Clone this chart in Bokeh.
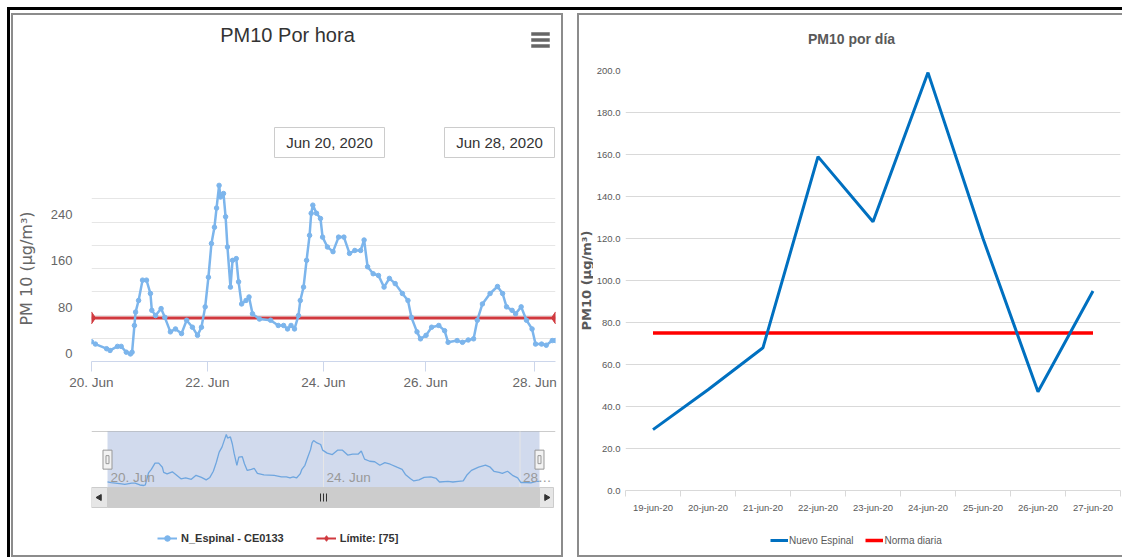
import math
from bokeh.plotting import figure
from bokeh.models import (Range1d, LinearAxis, FixedTicker, Grid, Legend, LegendItem,
                          Spacer, NumeralTickFormatter)
from bokeh.layouts import row, column
from bokeh.embed import file_html
from bokeh.resources import INLINE
from bokeh.core.properties import value

# ---------------- data ----------------
# hourly PM10 (position on the ordinal time axis, value in ug/m3)
hora_pos = [0, 1.7, 6.5, 8, 11.2, 12.8, 15, 16.8, 17.5, 18.5,
            19, 20.3, 22, 23.7, 25.4, 26, 27.6, 30, 31.6, 34,
            36.2, 38.8, 41, 43.5, 45.7, 47.4, 49, 50.4, 51.7, 53,
            53.9, 55, 55.6, 56.9, 57.8, 58.6, 59.9, 60.8, 62.4, 63.4,
            64.7, 66.6, 67.9, 69.4, 72.4, 77.2, 80.5, 82.8, 84.5, 86,
            87.5, 89.2, 90, 91.4, 92.7, 94, 94.7, 95.4, 97, 98.7,
            99.6, 101.7, 104.1, 106.5, 108.8, 111.2, 113.5, 116, 117.5, 119,
            121.4, 123.7, 126.1, 128.4, 130.9, 134, 136.4, 137.9, 140.3, 141.8,
            144.2, 146.6, 149.7, 152.2, 153.7, 157.6, 159.9, 162.4, 164.7, 166.3,
            168.5, 171.8, 175, 177.2, 178.9, 181.3, 182.8, 185.2, 187.5, 189.9,
            191.4, 194, 196, 198.6, 200]
pm10_hora = [34, 30, 22, 19, 26, 26, 16, 13, 16, 62,
             85, 105, 140, 140, 117, 88, 79, 91, 76, 51,
             56, 48, 71, 59, 45, 59, 94, 145, 203, 231,
             264, 303, 283, 289, 249, 197, 128, 174, 177, 137,
             99, 105, 111, 82, 73, 71, 62, 62, 56, 62,
             56, 79, 105, 128, 174, 217, 255, 269, 255, 246,
             214, 197, 189, 214, 214, 186, 191, 191, 209, 163,
             151, 148, 128, 143, 134, 117, 105, 76, 51, 39,
             45, 59, 62, 53, 33, 36, 33, 37, 39, 71,
             99, 117, 129, 117, 94, 88, 82, 94, 71, 56,
             30, 30, 28, 36, 36]
limite = 75
ticks_hora = [0, 50, 100, 144, 191]
etiquetas_hora = ["20. Jun", "22. Jun", "24. Jun", "26. Jun", "28. Jun"]
ticks_nav = [0, 100, 191]
etiquetas_nav = ["20. Jun", "24. Jun", "28\u2026"]
rango_fechas = ["Jun 20, 2020", "Jun 28, 2020"]

# daily PM10
fechas = ["19-jun-20", "20-jun-20", "21-jun-20", "22-jun-20", "23-jun-20",
          "24-jun-20", "25-jun-20", "26-jun-20", "27-jun-20"]
pm10_dia = [29, 48, 68, 159, 128, 199, 120, 47, 95]
norma = 75

# ---------------- styles ----------------
SANS = "Liberation Sans"
AZUL = "#7cb5ec"
ROJO = "#d0393e"
GRIS = "#8c8c8c"


def base(**kw):
    p = figure(output_backend="svg", toolbar_location=None, **kw)
    p.outline_line_color = None
    p.background_fill_color = "white"
    p.border_fill_color = "white"
    return p


def lienzo(w, h, xr, yr, left, right):
    # decorative canvas whose coordinates are the page pixels
    return base(width=w, height=h, x_range=Range1d(*xr), y_range=Range1d(*yr),
                x_axis_type=None, y_axis_type=None, title=None,
                min_border_left=left, min_border_right=right,
                min_border_top=0, min_border_bottom=0)


def bloque(w, h, color):
    return Spacer(width=w, height=h, styles={"background-color": color})


def leyenda(items, loc, size, bold, color, gw, standoff, spacing):
    lg = Legend(items=items, orientation="horizontal", location=loc)
    lg.label_text_font = SANS
    lg.label_text_font_size = size
    lg.label_text_font_style = bold
    lg.label_text_color = color
    lg.glyph_width = gw
    lg.glyph_height = 14
    lg.label_height = 14
    lg.label_standoff = standoff
    lg.spacing = spacing
    lg.padding = 0
    lg.margin = 0
    lg.border_line_color = None
    lg.background_fill_alpha = 0
    return lg


LW, LL, LR = 548, 78, 6     # left panel content width and frame borders

# ---------------- left panel: header ----------------
pA = lienzo(LW, 145, (91, 555), (160, 15), LL, LR)
pA.text(x=[287], y=[34], text=["PM10 Por hora"], text_align="center",
        text_baseline="middle", text_font=value(SANS), text_font_size="20px",
        text_color="#333333")
pA.quad(left=[531] * 3, right=[549] * 3, top=[32, 38, 44], bottom=[35, 41, 47],
        fill_color="#666666", line_color="#666666", line_width=0.5)
pA.quad(left=[274, 444], right=[384, 554], top=[127, 127], bottom=[157, 157],
        fill_color="white", line_color="#cccccc", line_width=1)
pA.text(x=[329, 499], y=[142, 142], text=rango_fechas, text_align="center",
        text_baseline="middle", text_font=value(SANS), text_font_size="15px",
        text_color="#333333")

# ---------------- left panel: main chart ----------------
pB = base(width=LW, height=260, x_range=Range1d(0, 200), y_range=Range1d(0, 320),
          y_axis_type=None, title=None, min_border_left=LL, min_border_right=LR,
          min_border_top=15, min_border_bottom=59)
pB.xgrid.visible = False
pB.add_layout(Grid(dimension=1, ticker=FixedTicker(ticks=list(range(0, 321, 40))),
                   grid_line_color="#e6e6e6"))
pB.extra_y_ranges = {"lbl": Range1d(-13.76, 306.24)}
ejeY = LinearAxis(y_range_name="lbl", ticker=FixedTicker(ticks=[0, 80, 160, 240]),
                  axis_label="PM 10 (\u03bcg/m\u00b3)")
ejeY.axis_line_color = None
ejeY.major_tick_line_color = None
ejeY.minor_tick_line_color = None
ejeY.major_tick_out = 0
ejeY.major_tick_in = 0
ejeY.minor_tick_out = 0
ejeY.minor_tick_in = 0
ejeY.major_label_standoff = 19
ejeY.major_label_text_font = SANS
ejeY.major_label_text_font_size = "13px"
ejeY.major_label_text_color = "#666666"
ejeY.axis_label_text_font = "DejaVu Sans"
ejeY.axis_label_text_font_size = "16px"
ejeY.axis_label_text_font_style = "normal"
ejeY.axis_label_text_color = "#666666"
ejeY.axis_label_standoff = 12
pB.add_layout(ejeY, "left")

xa = pB.xaxis[0]
xa.ticker = FixedTicker(ticks=ticks_hora)
xa.major_label_overrides = dict(zip(ticks_hora, etiquetas_hora))
xa.axis_line_color = "#ccd6eb"
xa.major_tick_line_color = "#ccd6eb"
xa.major_tick_out = 10
xa.major_tick_in = 0
xa.minor_tick_line_color = None
xa.minor_tick_out = 0
xa.minor_tick_in = 0
xa.major_label_standoff = 3
xa.major_label_text_font = SANS
xa.major_label_text_font_size = "13.5px"
xa.major_label_text_color = "#666666"

pB.line(x=[hora_pos[0], hora_pos[-1]], y=[limite, limite], line_color=ROJO, line_width=3)
pB.scatter(x=[hora_pos[0], hora_pos[-1]], y=[limite, limite], marker="diamond",
           size=12, color=ROJO)
pB.line(x=hora_pos, y=pm10_hora, line_color=AZUL, line_width=2.5)
pB.scatter(x=hora_pos, y=pm10_hora, size=4.5, color=AZUL)

# ---------------- left panel: navigator, scrollbar, legend ----------------
pC = lienzo(LW, 135, (91, 555), (555, 420), LL, LR)
pC.extra_x_ranges = {"navx": Range1d(-7.407, 207.41)}
pC.extra_y_ranges = {"navy": Range1d(-384.9, 382.6)}
NAV = dict(x_range_name="navx", y_range_name="navy")

pC.segment(x0=[91], x1=[555], y0=[431], y1=[431], line_color="#cccccc", line_width=1)
pC.quad(left=[hora_pos[0]], right=[hora_pos[-1]], bottom=[0], top=[320],
        fill_color="#6685c2", fill_alpha=0.3, line_color=None, **NAV)
pC.segment(x0=ticks_nav[1:], x1=ticks_nav[1:], y0=[0, 0], y1=[320, 320],
           line_color="#e6e6e6", line_width=1, **NAV)
pC.line(x=hora_pos, y=pm10_hora, line_color="#6fa6df", line_width=1.3, **NAV)
pC.text(x=ticks_nav, y=[0] * 3, text=etiquetas_nav, text_align="left",
        text_baseline="middle", x_offset=3, y_offset=-10, text_font=value(SANS),
        text_font_size="13.5px", text_color="#999999", **NAV)
pC.rect(x=[hora_pos[0], hora_pos[-1]], y=[160, 160], width=9, height=19,
        width_units="screen", height_units="screen", fill_color="#f2f2f2",
        line_color="#999999", **NAV)
pC.rect(x=[hora_pos[0], hora_pos[-1]], y=[160, 160], width=3, height=8,
        width_units="screen", height_units="screen", fill_color=None,
        line_color="#999999", **NAV)
# scrollbar
pC.quad(left=[91], right=[553], top=[487], bottom=[507], fill_color="#f2f2f2", line_color=None)
pC.quad(left=[107], right=[539], top=[487], bottom=[507], fill_color="#cccccc",
        line_color="#cccccc")
pC.quad(left=[91, 539], right=[107, 553], top=[487, 487], bottom=[507, 507],
        fill_color="#e6e6e6", line_color="#cccccc")
pC.scatter(x=[99, 546], y=[497, 497], marker="triangle", size=6,
           angle=[math.pi / 2, -math.pi / 2], color="#333333")
pC.segment(x0=[320, 323, 326], x1=[320, 323, 326], y0=[493] * 3, y1=[501] * 3,
           line_color="#333333", line_width=1)
# legend (symbols only, drawn off-frame)
l1 = pC.line(x=[0, 1], y=[0, 0], line_color=AZUL, line_width=2)
l2 = pC.scatter(x=[0], y=[0], size=5, color=AZUL)
l3 = pC.line(x=[0, 1], y=[0, 0], line_color=ROJO, line_width=2)
l4 = pC.scatter(x=[0], y=[0], marker="diamond", size=10, color=ROJO)
pC.add_layout(leyenda([LegendItem(label="N_Espinal - CE0133", renderers=[l1, l2]),
                       LegendItem(label="L\u00edmite: [%d]" % limite, renderers=[l3, l4])],
                      (66, 10), "11px", "bold", "#333333", 20, 4, 32), "center")

# ---------------- right panel: daily chart ----------------
RY = 14                      # strip holding the vertical axis title
RW, RL, RR = 543 - RY, 32, 2

pY = base(width=RY, height=540, x_range=Range1d(0, RY), y_range=Range1d(0, 540),
          x_axis_type=None, y_axis_type=None, title=None, min_border=0)
pY.text(x=[6.5], y=[275], text=["PM10 (\u03bcg/m\u00b3)"], angle=math.pi / 2,
        text_align="center", text_baseline="middle", text_font=value("DejaVu Sans"),
        text_font_size="13px", text_font_style="bold", text_color="#595959")

pRh = lienzo(RW, 40, (625, 1120), (55, 15), RL, RR)
pRh.text(x=[851], y=[38], text=["PM10 por d\u00eda"], text_align="center",
         text_baseline="middle", text_font=value(SANS), text_font_size="14px",
         text_font_style="bold", text_color="#595959")

idx = list(range(len(fechas)))
pR = base(width=RW, height=470, x_range=Range1d(-0.5, len(fechas) - 0.5),
          y_range=Range1d(0, 200), title=None,
          min_border_left=RL, min_border_right=RR, min_border_top=15, min_border_bottom=35)
yt = list(range(0, 201, 20))
pR.yaxis.ticker = FixedTicker(ticks=yt)
pR.yaxis.formatter = NumeralTickFormatter(format="0.0")
pR.yaxis.axis_line_color = None
pR.yaxis.major_tick_line_color = None
pR.yaxis.minor_tick_line_color = None
pR.yaxis.major_tick_out = 0
pR.yaxis.major_tick_in = 0
pR.yaxis.minor_tick_out = 0
pR.yaxis.minor_tick_in = 0
pR.yaxis.major_label_standoff = 5
pR.yaxis.major_label_text_font = SANS
pR.yaxis.major_label_text_font_size = "9.5px"
pR.yaxis.major_label_text_color = "#595959"
pR.ygrid.ticker = FixedTicker(ticks=yt)
pR.ygrid.grid_line_color = "#d9d9d9"
pR.xgrid.visible = False

pR.xaxis.ticker = FixedTicker(ticks=idx, minor_ticks=[i - 0.5 for i in range(len(fechas) + 1)])
pR.xaxis.major_label_overrides = dict(zip(idx, fechas))
pR.xaxis.axis_line_color = "#d9d9d9"
pR.xaxis.major_tick_out = 0
pR.xaxis.major_tick_in = 0
pR.xaxis.minor_tick_out = 6
pR.xaxis.minor_tick_in = 0
pR.xaxis.minor_tick_line_color = "#d9d9d9"
pR.xaxis.major_label_standoff = 5
pR.xaxis.major_label_text_font = SANS
pR.xaxis.major_label_text_font_size = "9.5px"
pR.xaxis.major_label_text_color = "#595959"

pR.line(x=[idx[0], idx[-1]], y=[norma, norma], line_color="#ff0000", line_width=3.5)
pR.line(x=idx, y=pm10_dia, line_color="#0070c0", line_width=3)

pRf = lienzo(RW, 30, (625, 1120), (555, 525), RL, RR)
m1 = pRf.line(x=[0, 1], y=[0, 0], line_color="#0070c0", line_width=3)
m2 = pRf.line(x=[0, 1], y=[0, 0], line_color="#ff0000", line_width=3.5)
pRf.add_layout(leyenda([LegendItem(label="Nuevo Espinal", renderers=[m1]),
                        LegendItem(label="Norma diaria", renderers=[m2])],
                       (145, 8), "10px", "normal", "#595959", 18, 1, 12), "center")

# ---------------- composition ----------------
izq = column(bloque(552, 2, GRIS),
             row(bloque(2, 540, GRIS), column(pA, pB, pC), bloque(2, 540, GRIS)),
             bloque(552, 2, GRIS))
der = column(bloque(545, 2, GRIS),
             row(bloque(2, 540, GRIS), pY, column(pRh, pR, pRf)),
             bloque(545, 2, GRIS))
todo = column(Spacer(width=1122, height=7),
              row(Spacer(width=7, height=550), bloque(3, 550, "#000000"),
                  column(bloque(1112, 3, "#000000"), Spacer(width=1112, height=3),
                         row(Spacer(width=1, height=544), izq,
                             Spacer(width=14, height=544), der))))

open("out.html", "w").write(file_html(todo, INLINE, title="PM10"))
